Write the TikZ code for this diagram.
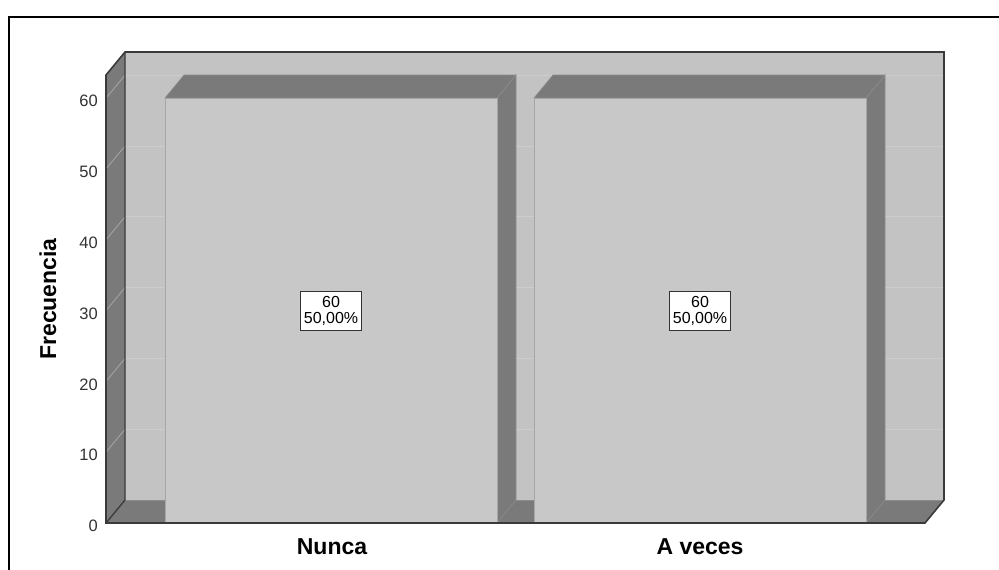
\documentclass[tikz,border=0pt]{standalone}
\usepackage{fontspec}
\setmainfont{Liberation Sans}
\usetikzlibrary{positioning}
\definecolor{wallgray}{HTML}{C3C3C3}
\definecolor{sidegray}{HTML}{7A7A7A}
\definecolor{bargray}{HTML}{C8C8C8}
\definecolor{gridback}{HTML}{CDCDCD}
\definecolor{gridside}{HTML}{A6A6A6}
\definecolor{edgegray}{HTML}{3A3A3A}
\tikzset{
    ticklabel/.style={anchor=east, inner sep=0pt, text=black!80, font=\fontsize{16.5}{17}\selectfont},
    barlabel/.style={draw=black!80, fill=white, align=center, inner xsep=3pt, inner ysep=5pt, line width=0.9pt, font=\fontsize{16}{16}\selectfont},
    axislabel/.style={font=\bfseries\fontsize{23}{26}\selectfont},
    barface/.style={fill=bargray, draw=black!35, line width=0.8pt},
    barside/.style={fill=sidegray, draw=black!45, line width=0.6pt}
}

\begin{document}
\begin{tikzpicture}[x=1pt, y=-1pt]
\useasboundingbox (0,0) rectangle (999,570);
\draw[line width=2pt] (9,16.5) rectangle (1020,620);

% walls and floor
\fill[wallgray] (125,52) rectangle (944,500);
\fill[sidegray] (106,75) -- (125,52) -- (125,500) -- (106,523) -- cycle;
\fill[sidegray] (106,523) -- (125,500) -- (944,500) -- (925,523) -- cycle;
\foreach \v in {10,20,...,60} {
    \draw[gridback, line width=0.8pt] (125,{500-7.08*\v}) -- (944,{500-7.08*\v});
    \draw[gridside, line width=0.8pt] (106,{523-7.08*\v}) -- (125,{500-7.08*\v});
}
\draw[black!45, line width=0.8pt] (125,500) -- (944,500);
\draw[edgegray, line width=1.3pt] (125,52) -- (125,500) -- (106,523);
\draw[edgegray, line width=1.6pt] (106,523) -- (106,75) -- (125,52) -- (944,52) -- (944,500) -- (925,523) -- cycle;

% bars
\foreach \x/\c in {165/331, 534/700} {
    \filldraw[barside] ({\x+332},98) -- ({\x+351},75) -- ({\x+351},500) -- ({\x+332},523) -- cycle;
    \filldraw[barside] (\x,98) -- ({\x+19},75) -- ({\x+351},75) -- ({\x+332},98) -- cycle;
    \filldraw[barface] (\x,98) rectangle ({\x+332},523);
}
\draw[edgegray, line width=1.6pt] (106,523) -- (925,523);

\node[barlabel] (lnunca) at (331,311) {60\\50,00\%};
\node[barlabel] (laveces) at (700,311) {60\\50,00\%};

% axis
\foreach \v in {0,10,...,60}
    \node[ticklabel] (t\v) at (98,{526-7.08*\v}) {\v};
\node[axislabel, rotate=90] (ytitle) at (48,299) {Frecuencia};
\node[axislabel] (xnunca) at (332,547) {Nunca};
\node[axislabel] (xaveces) at (700,547) {A veces};
\end{tikzpicture}
\end{document}
